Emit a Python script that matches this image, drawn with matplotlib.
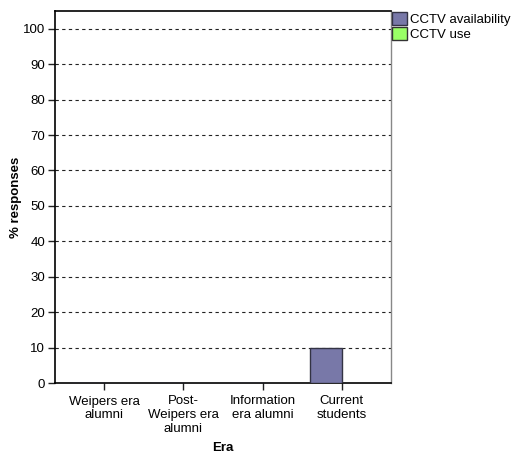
import matplotlib
matplotlib.use("Agg")
import matplotlib.pyplot as plt
import numpy as np
from matplotlib.patches import Patch

categories = ["Weipers era\nalumni", "Post-\nWeipers era\nalumni", "Information\nera alumni", "Current\nstudents"]
cctv_availability = [0, 0, 0, 10]
cctv_use = [0, 0, 0, 0]
series_names = ["CCTV availability", "CCTV use"]
colors = ["#7878a8", "#99ff66"]
yticks = [0, 10, 20, 30, 40, 50, 60, 70, 80, 90, 100]

plt.rcParams['font.family'] = ['Liberation Sans', 'DejaVu Sans']

fig = plt.figure(figsize=(5.15, 4.57), dpi=100)
ax = fig.add_axes([55/515, 1-383/457, 336/515, 372/457])

x = np.arange(len(categories))
w = 0.405
ax.bar(x - w/2, cctv_availability, w, color=colors[0], edgecolor="#333344", linewidth=1.0, zorder=3)
ax.bar(x + w/2, cctv_use, w, color=colors[1], edgecolor="#333333", linewidth=1.0, zorder=3)

ax.set_xlim(-0.62, 3.62)
ax.set_ylim(0, 105)
ax.set_yticks(yticks)
ax.set_yticklabels([str(v) for v in yticks], fontsize=9.5)
ax.set_xticks(x)
ax.set_xticklabels(categories, fontsize=9.5, linespacing=1.2)
for v in yticks[1:]:
    ax.axhline(v, color="#222222", linestyle=(0, (3, 3)), linewidth=0.8, zorder=1)

ax.tick_params(axis='both', length=5, width=1, color="#222222", pad=2)
ax.tick_params(axis='x', pad=4)
for s in ["left", "bottom", "top"]:
    ax.spines[s].set_color("black")
    ax.spines[s].set_linewidth(1.2)
ax.spines["right"].set_color("#888888")
ax.spines["right"].set_linewidth(1.0)

ax.set_ylabel("% responses", fontsize=9.5, fontweight="bold", labelpad=1)
ax.set_xlabel("Era", fontsize=9.5, fontweight="bold", labelpad=5)

handles = [Patch(facecolor=colors[0], edgecolor="#333344", label=series_names[0]),
           Patch(facecolor=colors[1], edgecolor="#333333", label=series_names[1])]
fig.legend(handles=handles, loc="upper left", bbox_to_anchor=(392/515, 1-12/457),
           frameon=False, fontsize=9.5, handlelength=1.1, handleheight=1.15,
           handletextpad=0.3, borderaxespad=0, borderpad=0, labelspacing=0.1)

fig.savefig("out.png", dpi=100)
